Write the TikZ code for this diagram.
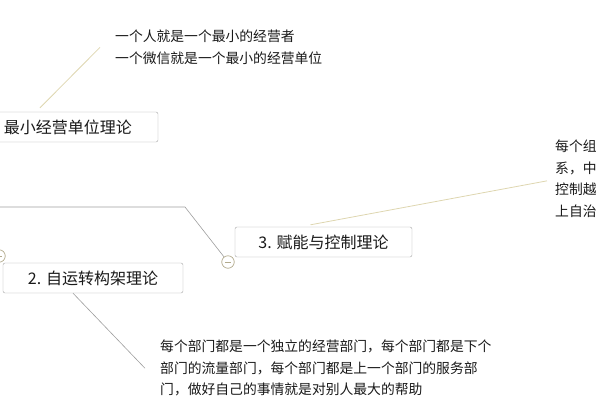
\documentclass[tikz,border=0pt]{standalone}
\usepackage{fontspec}
\setmainfont{Noto Sans CJK SC}
\definecolor{calloutline}{RGB}{222,214,176}
\definecolor{toggleline}{RGB}{178,170,140}
\begin{document}
\begin{tikzpicture}[x=1pt, y=-1pt,
        topic/.style={rectangle, draw=black!35, fill=white, rounded corners=2pt, minimum height=30pt, inner sep=0pt, text=black!90, font=\fontsize{16}{16}\selectfont},
        note/.style={anchor=north west, inner sep=0pt, align=left, text=black!90, font=\fontsize{13.8}{21.5}\selectfont},
        toggle/.style={circle, draw=toggleline, line width=0.7pt, fill=white, minimum size=12.5pt, inner sep=0pt,
            path picture={\draw[toggleline, line width=0.7pt] ([xshift=3pt]path picture bounding box.west) -- ([xshift=-3pt]path picture bounding box.east);}},
        branch/.style={draw=black!38, line width=0.6pt},
        callout/.style={draw=calloutline, line width=0.8pt}
    ]
        \useasboundingbox (0,0) rectangle (600,400);
        \clip (0,0) rectangle (600,400);

        \node[topic, minimum width=180pt] (unit) at (68,127) {最小经营单位理论};
        \node[topic, minimum width=180pt] (self) at (93,278) {2. 自运转构架理论};
        \node[topic, minimum width=177pt] (enable) at (323.5,242) {3. 赋能与控制理论};

        \node[note] (unitnote) at (115,30) {一个人就是一个最小的经营者\\一个微信就是一个最小的经营单位};
        \node[note] (enablenote) at (555,140) {每个组\\系，中\\控制越\\上自治};
        \node[note] (selfnote) at (160,340) {每个部门都是一个独立的经营部门，每个部门都是下个\\部门的流量部门，每个部门都是上一个部门的服务部\\门，做好自己的事情就是对别人最大的帮助};

        \node[toggle] (foldself) at (-1,256) {};
        \node[toggle] (foldenable) at (228,262) {};

        \coordinate (trunk) at (-5,207);
        \coordinate (bend) at (185,207);

        \draw[branch] (trunk) -- (bend) -- (foldenable);
        \draw[callout] ([xshift=-28pt, yshift=4pt]unit.north) -- ([xshift=-15pt]unitnote.west);
        \draw[callout] ([xshift=-13pt, yshift=2pt]enable.north) -- ([xshift=-8pt, yshift=-2pt]enablenote.west);
        \draw[branch] ([xshift=-20pt]self.south) -- ([xshift=-15pt]selfnote.west);
    \end{tikzpicture}
\end{document}
